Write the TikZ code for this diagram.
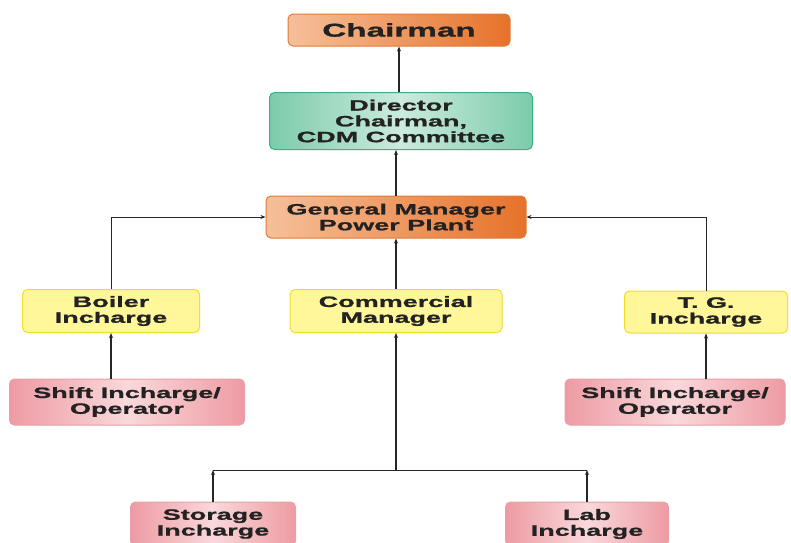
\documentclass[tikz,border=0pt]{standalone}
\usepackage{fontspec}
\setmainfont{Liberation Sans}[FakeStretch=1.8,BoldFeatures={FakeBold=1.2}]
\usetikzlibrary{arrows.meta}
\definecolor{orD}{HTML}{E6722A}
\definecolor{orL}{HTML}{F6C09A}
\definecolor{orB}{HTML}{E07A36}
\definecolor{grD}{HTML}{7CCBAA}
\definecolor{grL}{HTML}{CBEBDD}
\definecolor{grB}{HTML}{3FAE80}
\definecolor{yeF}{HTML}{FFF79A}
\definecolor{yeB}{HTML}{F0DE2A}
\definecolor{piD}{HTML}{EE9BA3}
\definecolor{piL}{HTML}{F9D8DB}
\definecolor{piB}{HTML}{E8A0A6}
\definecolor{txt}{HTML}{222222}
\tikzset{
  box/.style={rounded corners=5pt, line width=1pt, align=center, inner sep=0pt,
    text=txt, font=\bfseries\fontsize{15}{15.8}\selectfont},
  orangebox/.style={box, draw=orB, left color=orL, right color=orD},
  greenbox/.style={box, draw=grB, left color=grD, right color=grD, middle color=grL},
  yellowbox/.style={box, draw=yeB, fill=yeF},
  pinkbox/.style={box, draw=piB, left color=piD, right color=piD, middle color=piL},
  conn/.style={line width=1.1pt, black!85, -{Stealth[length=5pt,width=4pt]}},
  thinconn/.style={line width=0.8pt, black!85, -{Stealth[length=5pt,width=4pt]}},
}
\begin{document}
\begin{tikzpicture}[x=1pt,y=-1pt]
\clip (0,0) rectangle (791,542);
\fill[white] (0,0) rectangle (791,542);
\node[orangebox, minimum width=222pt, minimum height=32pt, font=\bfseries\fontsize{18.5}{19}\selectfont] (chair) at (399,30) {Chairman};
\node[greenbox, minimum width=263pt, minimum height=57pt] (dir) at (401,121) {Director\\Chairman,\\CDM Committee};
\node[orangebox, minimum width=260pt, minimum height=42pt] (gm) at (396,217) {General Manager\\Power Plant};
\node[yellowbox, minimum width=177pt, minimum height=43pt] (boiler) at (111,311) {Boiler\\Incharge};
\node[yellowbox, minimum width=212pt, minimum height=43pt] (comm) at (396,311) {Commercial\\Manager};
\node[yellowbox, minimum width=163pt, minimum height=42pt] (tg) at (706,312) {T. G.\\Incharge};
\node[pinkbox, minimum width=235pt, minimum height=46pt] (shl) at (127,402) {Shift Incharge/\\Operator};
\node[pinkbox, minimum width=220pt, minimum height=46pt] (shr) at (675,402) {Shift Incharge/\\Operator};
\node[pinkbox, minimum width=165pt, minimum height=44pt] (stor) at (213,524) {Storage\\Incharge};
\node[pinkbox, minimum width=163pt, minimum height=44pt] (lab) at (587,524) {Lab\\Incharge};
\coordinate (junc) at (396,470);
\coordinate (jl) at (213,470);
\coordinate (jr) at (587,470);
\draw[conn] (dir.north -| chair.south) -- (chair.south);
\draw[conn] (gm.north) -- (gm.north |- dir.south);
\draw[conn] (comm.north) -- (gm.south);
\draw[thinconn] (boiler.north) |- (gm.west);
\draw[thinconn] (tg.north) |- (gm.east);
\draw[conn] (shl.north -| boiler.south) -- (boiler.south);
\draw[conn] (shr.north -| tg.south) -- (tg.south);
\draw[conn] (junc) -- (comm.south);
\draw[line width=0.8pt, black!85] (jl) -- (jr);
\draw[conn] (stor.north) -- (jl);
\draw[conn] (lab.north) -- (jr);
\end{tikzpicture}
\end{document}
